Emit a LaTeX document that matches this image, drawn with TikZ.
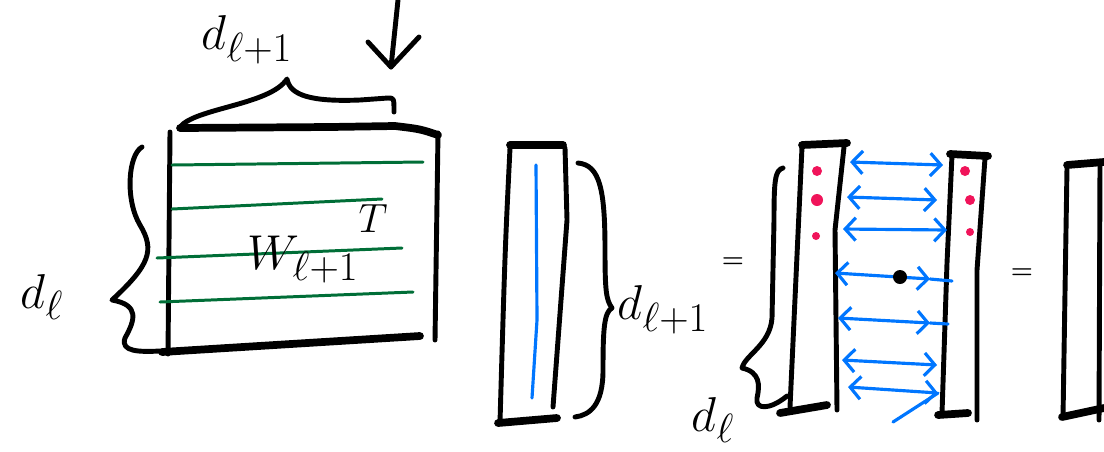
\documentclass[tikz,border=0pt]{standalone}
\usepackage{amsmath}
\usetikzlibrary{arrows.meta}
\definecolor{rowgreen}{RGB}{0,110,55}
\definecolor{pairblue}{RGB}{0,118,255}
\definecolor{dotpink}{RGB}{240,20,90}

\begin{document}
\begin{tikzpicture}[
				x=0.02cm, y=-0.02cm,
				line cap=round,
				line join=round,
				line width=2.8pt,
				rim/.style={line width=4.4pt},
				rowline/.style={draw=rowgreen, line width=1.7pt},
				pairline/.style={draw=pairblue, line width=1.8pt, <->,
					>={Straight Barb[length=6pt,width=13pt]}},
				lbl/.style={font=\Huge, scale=1.12, inner sep=0pt},
				eqsign/.style={font=\Large\bfseries, inner sep=0pt}
				]
				\useasboundingbox (0,0) rectangle (1104,451);
				
				% Matrix
				\begin{scope}
					\draw (170,132) -- (168,354);
					\draw[rim] (180,128) -- (330,127) -- (395,126)
					.. controls (420,129) .. (438,135);
					\draw (438,133) -- (435,340);
					\draw[rim] (162,352) -- (420,336);
					\draw[rowline] (172,165) -- (423,162);
					\draw[rowline] (172,209) -- (382,199);
					\draw[rowline] (157,258) -- (402,248);
					\draw[rowline] (160,302) -- (413,292);
					\node[lbl] (wname) at (318,244) {$W_{\ell+1}{}^{\raisebox{0.9ex}{$\scriptstyle T$}}$};
					% brace on top
					\draw (180,127) .. controls (195,108) and (270,105) .. (287,79)
					.. controls (290,95) and (310,102) .. (360,100) -- (388,98)
					.. controls (394,98) .. (394,112);
					\node[lbl] (dtop) at (247,40) {$d_{\ell+1}$};
					% brace on the left
					\draw (142,147) .. controls (128,155) and (125,200) .. (140,225)
					.. controls (155,250) and (150,265) .. (112,300)
					.. controls (140,305) and (135,320) .. (125,338)
					.. controls (120,352) and (140,352) .. (160,351);
					\node[lbl] (dleft) at (42,297) {$d_{\ell}$};
					% arrow from above
					\coordinate (T0) at (398,0);
					\coordinate (T1) at (391,67);
					\draw (T0) -- (T1);
					\draw (368,42) -- (T1) -- (419,37);
				\end{scope}
				
				% Column vector
				\begin{scope}
					\draw[rim] (510,145) -- (563,145);
					\draw (510,148) .. controls (505,250) .. (500,422);
					\draw (565,148) -- (567,220) -- (553,407);
					\draw[rim] (498,423) -- (557,418);
					\draw[draw=pairblue, line width=1.8pt] (536,165) -- (537,320) -- (532,398);
					\draw (578,163) .. controls (600,165) and (605,190) .. (605,250)
					.. controls (605,290) and (606,300) .. (612,308)
					.. controls (604,312) and (603,330) .. (603,370)
					.. controls (603,405) and (590,415) .. (575,417);
					\node[lbl] (dcol) at (663,310) {$d_{\ell+1}$};
				\end{scope}
				
				\node[eqsign] (eqA) at (733,263) {=};
				
				% Left column of the product
				\begin{scope}
					\draw[rim] (802,145) -- (847,143);
					\draw (802,147) -- (790,407);
					\draw (844,147) -- (835,230) -- (837,410);
					\draw[rim] (780,413) -- (827,405);
					\draw (783,168) .. controls (775,170) and (774,180) .. (774,220)
					-- (772,318) .. controls (770,345) and (745,355) .. (742,368)
					.. controls (760,372) and (760,385) .. (757,398)
					.. controls (755,410) and (770,410) .. (787,396);
					\node[lbl] (dbot) at (713,420) {$d_{\ell}$};
				\end{scope}
				
				% Right column of the product
				\begin{scope}
					\draw[rim] (950,154) -- (988,156);
					\draw (952,155) -- (947,263) -- (942,413);
					\draw (985,158) -- (977,270) -- (977,420);
					\draw[rim] (938,415) -- (968,413);
				\end{scope}
				
				% entries
				\foreach \x/\y/\r in {817/171/5, 817/200/6, 816/236/4,
					965/171/5, 970/200/5, 970/232/4}
				\fill[dotpink] (\x,\y) circle (\r);
				
				% pairs of entries
				\foreach \n/\xa/\ya/\xb/\yb in {1/850/162/943/165, 2/847/197/937/200,
					3/843/229/947/230, 4/835/273/930/279, 5/838/318/930/323,
					6/842/360/937/365, 7/848/387/938/393}{
					\coordinate (L\n) at (\xa,\ya);
					\coordinate (R\n) at (\xb,\yb);
					\draw[pairline] (L\n) -- (R\n);
				}
				\draw[draw=pairblue, line width=1.8pt] (R4) -- (952,281);
				\draw[draw=pairblue, line width=1.8pt] (R5) -- (948,324);
				\draw[draw=pairblue, line width=1.8pt] (893,422) -- (R7);
				\fill (900,277) circle (7);
				
				\node[eqsign] (eqB) at (1022,274) {=};
				
				% Result column
				\begin{scope}
					\draw[rim] (1067,165) -- (1104,162);
					\draw (1067,167) -- (1063,417);
					\draw (1100,162) -- (1099,420);
					\draw[rim] (1062,417) -- (1104,408);
				\end{scope}
			\end{tikzpicture}
\end{document}
